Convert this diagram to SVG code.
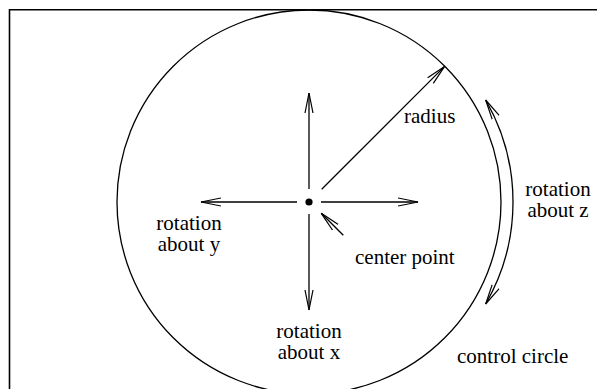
<svg xmlns="http://www.w3.org/2000/svg" width="597" height="389" viewBox="0 0 597 389">
  <style>
    .ln { fill: none; stroke: #000; stroke-width: 1.3; }
    text { font-family: 'Liberation Serif', 'Times New Roman', Times, serif; font-size: 21px; fill: #000; }
    .mid { text-anchor: middle; }
  </style>
  <defs>
    <marker id="arr" markerUnits="userSpaceOnUse" markerWidth="24" markerHeight="12" refX="20" refY="5" orient="auto-start-reverse" viewBox="0 0 24 10">
      <path d="M0,1 L20,5 L0,9" fill="none" stroke="#000" stroke-width="1.2"/>
    </marker>
  </defs>
  <rect width="597" height="389" fill="#fff"/>
  <g id="frame">
    <path d="M9.5,389 V9.8 H597" fill="none" stroke="#000" stroke-width="1.6"/>
  </g>
  <g id="control-circle">
    <circle cx="309" cy="202" r="192" class="ln"/>
    <text font-family="Liberation Serif, serif" x="457" y="362.5">control circle</text>
  </g>
  <g id="center-point">
    <circle cx="309" cy="202" r="3.6" fill="#000"/>
    <text font-family="Liberation Serif, serif" x="355" y="263.5">center point</text>
  </g>
  <g id="radius-label">
    <text font-family="Liberation Serif, serif" x="404" y="123">radius</text>
  </g>
  <g id="rotation-x">
    <text font-family="Liberation Serif, serif" class="mid" x="309" y="337.5">rotation</text>
    <text font-family="Liberation Serif, serif" class="mid" x="309" y="358.5">about x</text>
  </g>
  <g id="rotation-y">
    <text font-family="Liberation Serif, serif" class="mid" x="189" y="230">rotation</text>
    <text font-family="Liberation Serif, serif" class="mid" x="189" y="251">about y</text>
  </g>
  <g id="rotation-z">
    <text font-family="Liberation Serif, serif" class="mid" x="558" y="196">rotation</text>
    <text font-family="Liberation Serif, serif" class="mid" x="558" y="217">about z</text>
  </g>
  <g id="connectors" class="ln">
    <line x1="309" y1="189" x2="309" y2="93" marker-end="url(#arr)"/>
    <line x1="309" y1="214" x2="309" y2="310" marker-end="url(#arr)"/>
    <line x1="297" y1="202" x2="201" y2="202" marker-end="url(#arr)"/>
    <line x1="321" y1="202" x2="418" y2="202" marker-end="url(#arr)"/>
    <line x1="321.7" y1="189.3" x2="444.6" y2="66.4" marker-end="url(#arr)"/>
    <line x1="343.3" y1="235.3" x2="321.3" y2="213.3" marker-end="url(#arr)"/>
    <path d="M485.67,100 A204,204 0 0 1 485.67,304" marker-start="url(#arr)" marker-end="url(#arr)"/>
  </g>
</svg>
